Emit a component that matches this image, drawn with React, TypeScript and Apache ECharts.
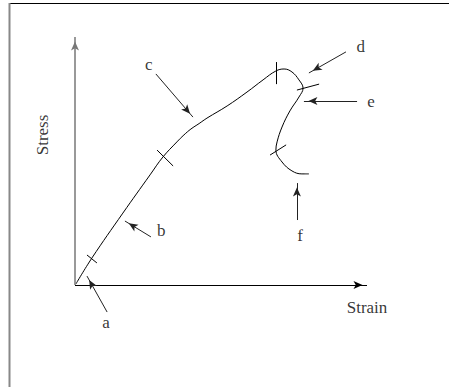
import React, { useEffect, useRef } from "react";
import * as echarts from "echarts";

// Stress–strain curve (arbitrary units: strain 0..100, stress 0..100)
const curvePoints: [number, number][] = [
  [0.3, 0.4], [5.8, 10.9], [16.4, 29.0], [25.7, 44.4], [30.1, 51.6], [34.9, 57.7],
  [37.3, 60.5], [39.7, 62.9], [42.5, 65.1], [45.2, 67.3], [52.1, 72.2], [58.9, 77.8],
  [64.4, 82.7], [68.8, 86.3], [71.6, 87.1], [74.3, 85.9], [76.7, 82.7], [78.1, 79.4],
  [76.7, 75.8], [73.6, 70.2], [70.9, 63.7], [69.2, 57.7], [68.8, 54.4], [70.9, 49.6],
  [74.3, 46.0], [77.7, 44.8], [80.1, 44.8],
];

// short cross marks separating the regions of the curve
const tickMarks: [number, number][][] = [
  [[4.1, 12.1], [7.5, 8.9]],
  [[28.1, 54.4], [33.6, 48.0]],
  [[68.8, 89.9], [68.8, 81.0]],
  [[76.0, 78.6], [83.6, 81.0]],
  [[66.8, 52.4], [72.3, 56.5]],
];

const arrowLabels = ["a", "b", "c", "d", "e", "f"];
const arrowFrom: [number, number][] = [
  [11.0, -10.9], [26.0, 19.4], [27.7, 85.1], [92.8, 94.0], [96.6, 74.2], [76.0, 26.2],
];
const arrowTo: [number, number][] = [
  [4.1, 3.6], [17.1, 25.8], [40.4, 67.7], [80.1, 85.5], [78.4, 74.2], [76.0, 41.1],
];
const labelPos: [number, number][] = [
  [10.6, -15.3], [29.5, 21.8], [25.3, 89.1], [97.9, 96.0], [101.4, 73.8], [77.1, 19.8],
];

const axisNames = ["Strain", "Stress"];
const axisNamePos: [number, number][] = [[100, -8.9], [-11.0, 60.5]];
const axisEnds: [number, number][] = [[100, 0], [0, 100]];

const FONT = "'Liberation Serif', 'Times New Roman', serif";

export default function App() {
  const ref = useRef<HTMLDivElement>(null);
  useEffect(() => {
    if (!ref.current) return;
    const chart = echarts.init(ref.current, null, { renderer: "svg" });

    const arrowData: any[] = arrowFrom.map((f, i) => [
      { coord: f, symbol: "none" },
      { coord: arrowTo[i] },
    ]);
    const axisData: any[] = axisEnds.map((e, i) => [
      { coord: [0, 0], symbol: "none", lineStyle: { color: i === 0 ? "#000" : "#777", width: i === 0 ? 1 : 1.5 } },
      { coord: e },
    ]);

    const labelData: any[] = [
      ...arrowLabels.map((n, i) => ({ name: n, value: labelPos[i] })),
      ...axisNames.map((n, i) => ({
        name: n,
        value: axisNamePos[i],
        label: { rotate: i === 1 ? 90 : 0 },
      })),
    ];

    chart.setOption({
      animation: false,
      backgroundColor: "#fff",
      grid: { left: 16.6, width: 408.8, top: 12.2, height: 347.2, containLabel: false },
      xAxis: { type: "value", min: -20, max: 120, show: false },
      yAxis: { type: "value", min: -30, max: 110, show: false },
      graphic: [
        { type: "line", shape: { x1: 10, y1: 3.5, x2: 449, y2: 3.5 }, style: { stroke: "#000", lineWidth: 1 } },
        { type: "line", shape: { x1: 9.5, y1: 3, x2: 9.5, y2: 387 }, style: { stroke: "#888", lineWidth: 2 } },
      ],
      series: [
        {
          type: "line",
          name: "curve",
          data: curvePoints,
          smooth: 0.4,
          showSymbol: false,
          clip: false,
          silent: true,
          lineStyle: { color: "#000", width: 1 },
          markLine: {
            silent: true,
            symbol: "none",
            label: { show: false },
            lineStyle: { color: "#000", width: 1, type: "solid" },
            emphasis: { disabled: true },
            data: tickMarks.map((t) => [{ coord: t[0] }, { coord: t[1] }]),
          },
        },
        {
          type: "scatter",
          name: "labels",
          data: labelData,
          symbolSize: 1,
          clip: false,
          silent: true,
          itemStyle: { color: "rgba(0,0,0,0)" },
          label: {
            show: true,
            position: "inside",
            formatter: "{b}",
            color: "#000",
            fontSize: 17,
            fontFamily: FONT,
          },
          markLine: {
            silent: true,
            symbol: ["none", "arrow"],
            symbolSize: [6, 9],
            symbolOffset: [0, [0, 4.5]],
            label: { show: false },
            lineStyle: { color: "#222", width: 1, type: "solid" },
            emphasis: { disabled: true },
            data: [...axisData, ...arrowData],
          },
        },
      ],
    });
    return () => chart.dispose();
  }, []);
  return (
    <div
      ref={ref}
      style={{ position: "absolute", left: 0, top: 0, width: 449, height: 387 }}
    />
  );
}
